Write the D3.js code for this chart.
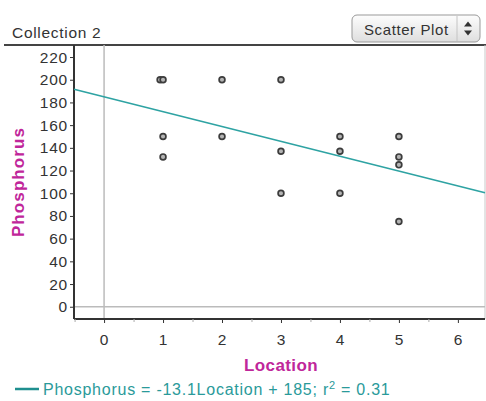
<!DOCTYPE html>
<html>
<head>
<meta charset="utf-8">
<script src="https://cdn.jsdelivr.net/npm/d3@7"></script>
<style>
  body { margin: 0; background: #fff; }
  text { font-family: "Liberation Sans", Arial, sans-serif; }
</style>
</head>
<body>
<div id="chart"></div>
<script>
// data
var locations  = [0.95, 1, 1, 1, 2, 2, 3, 3, 3, 4, 4, 4, 5, 5, 5, 5];
var phosphorus = [200, 200, 150, 132, 200, 150, 200, 137, 100, 150, 137, 100, 150, 132, 125, 75];
var yTicks = [0, 20, 40, 60, 80, 100, 120, 140, 160, 180, 200, 220];
var xTicks = [0, 1, 2, 3, 4, 5, 6];
var fitSlope = -13.1, fitIntercept = 185, fitR2 = 0.31;

var W = 486, H = 401;
var plotL = 74, plotR = 485, plotT = 45, plotB = 319;

var svg = d3.select('#chart').append('svg')
    .attr('width', W).attr('height', H);

var xScale = d3.scaleLinear().domain([-0.51, 6.46]).range([plotL, plotR]);
var yScale = d3.scaleLinear().domain([-10.8, 230.6]).range([plotB, plotT]);

// header
svg.append('text').attr('x', 12).attr('y', 38)
   .style('font-size', '15.5px').style('letter-spacing', '0.7px').style('fill', '#333')
   .text('Collection 2');

// dropdown
var grad = svg.append('defs').append('linearGradient')
   .attr('id', 'ddg').attr('x1', 0).attr('y1', 0).attr('x2', 0).attr('y2', 1);
grad.append('stop').attr('offset', '0%').attr('stop-color', '#fdfdfd');
grad.append('stop').attr('offset', '100%').attr('stop-color', '#dedede');
var dd = svg.append('g').attr('transform', 'translate(352,15)');
dd.append('rect').attr('width', 128).attr('height', 27).attr('rx', 5)
  .style('fill', 'url(#ddg)').style('stroke', '#999');
dd.append('line').attr('x1', 105).attr('x2', 105).attr('y1', 1).attr('y2', 26)
  .style('stroke', '#c4c4c4');
dd.append('text').attr('x', 12).attr('y', 20)
  .style('font-size', '15px').style('letter-spacing', '0.6px').style('fill', '#333').text('Scatter Plot');
dd.append('path').attr('d', 'M112,11.5 L116,6.5 L120,11.5 Z M112,15.5 L116,20.5 L120,15.5 Z')
  .style('fill', '#333');

svg.append('line').attr('x1', 4).attr('x2', W).attr('y1', plotT).attr('y2', plotT)
   .style('stroke', '#444').style('stroke-width', 2);

// plot frame and zero lines
svg.append('line').attr('x1', plotR).attr('x2', plotR).attr('y1', plotT).attr('y2', plotB)
   .style('stroke', '#c8c8c8');
svg.append('line').attr('x1', xScale(0)).attr('x2', xScale(0)).attr('y1', plotT).attr('y2', plotB)
   .style('stroke', '#bbb').style('stroke-width', 1.5);
svg.append('line').attr('x1', plotL).attr('x2', plotR).attr('y1', yScale(0)).attr('y2', yScale(0))
   .style('stroke', '#bbb').style('stroke-width', 1.5);

// axes
var yAxis = d3.axisLeft(yScale).tickValues(yTicks).tickSize(4).tickPadding(2);
var gy = svg.append('g').attr('transform', 'translate(' + plotL + ',0)').call(yAxis);
var xAxis = d3.axisBottom(xScale).tickValues(xTicks).tickSize(4).tickPadding(11)
    .tickFormat(d3.format('d'));
var gx = svg.append('g').attr('transform', 'translate(0,' + plotB + ')').call(xAxis);
var xMinor = d3.axisBottom(xScale).tickValues(xTicks.map(d => d - 0.5)).tickSize(3).tickFormat('');
var gxm = svg.append('g').attr('transform', 'translate(0,' + plotB + ')').call(xMinor);
gxm.select('.domain').remove();
gxm.selectAll('line').style('stroke', '#aaa');

gx.select('.domain').attr('d', 'M' + plotL + ',0H' + plotR);
gy.select('.domain').attr('d', 'M0,' + plotT + 'V' + plotB);
[gx, gy].forEach(function(g) {
  g.select('.domain').style('stroke', '#333').style('stroke-width', 2);
  g.selectAll('.tick line').style('stroke', '#333');
  g.selectAll('.tick text').style('font-size', '15.5px').style('letter-spacing', '0.8px')
   .style('fill', '#333').style('font-family', '"Liberation Sans", Arial, sans-serif');
});

// regression line
var fitLine = d3.line().x(d => xScale(d)).y(d => yScale(fitIntercept + fitSlope * d));
svg.append('path').datum(xScale.domain())
   .attr('d', fitLine)
   .style('fill', 'none').style('stroke', '#2ea3a3').style('stroke-width', 1.6);

// points
svg.selectAll('.pt').data(locations)
   .join('circle').attr('class', 'pt')
   .attr('cx', d => xScale(d))
   .attr('cy', (d, i) => yScale(phosphorus[i]))
   .attr('r', 2.9)
   .style('fill', '#b4b4b4').style('stroke', '#3c3c3c').style('stroke-width', 1.7);

// axis labels
svg.append('text').attr('x', xScale(3)).attr('y', 371)
   .attr('text-anchor', 'middle')
   .style('font-size', '17px').style('letter-spacing', '0.4px')
   .style('font-weight', 'bold').style('fill', '#c0269a')
   .text('Location');
svg.append('text')
   .attr('transform', 'translate(24,' + ((plotT + plotB) / 2) + ') rotate(-90)')
   .attr('text-anchor', 'middle')
   .style('font-size', '17px').style('letter-spacing', '1.1px')
   .style('font-weight', 'bold').style('fill', '#c0269a')
   .text('Phosphorus');

// legend
svg.append('line').attr('x1', 15).attr('x2', 39).attr('y1', 389).attr('y2', 389)
   .style('stroke', '#1f8f8f').style('stroke-width', 2.5);
var leg = svg.append('text').attr('x', 43).attr('y', 395)
   .style('font-size', '16px').style('letter-spacing', '0.75px').style('fill', '#2a9a9a');
leg.append('tspan').text('Phosphorus = ' + fitSlope + 'Location + ' + fitIntercept + '; r');
leg.append('tspan').attr('dy', -6).style('font-size', '11px').text('2');
leg.append('tspan').attr('dy', 6).text(' = ' + fitR2);
</script>
</body>
</html>
